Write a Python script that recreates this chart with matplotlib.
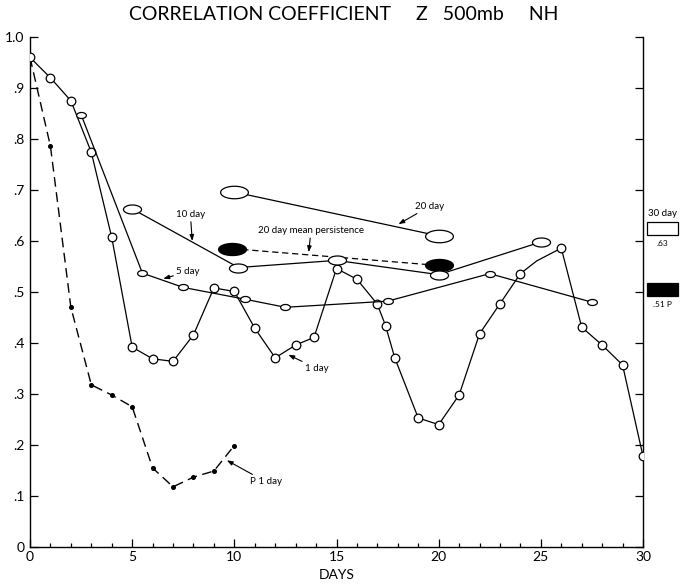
import matplotlib
matplotlib.use("Agg")
import matplotlib.pyplot as plt
import numpy as np
from matplotlib.path import Path
from matplotlib.patches import Rectangle

# ---------------- data ----------------
days_1 = [0, 1, 2, 3, 4, 5, 6, 7, 8, 9, 10, 11, 12, 13, 13.9, 15, 16, 17, 17.4,
          17.85, 19, 20, 21, 22, 23, 24, 24.8, 26, 27, 28, 29, 30]
corr_1 = [0.96, 0.92, 0.875, 0.774, 0.607, 0.392, 0.369, 0.364, 0.416, 0.508,
          0.501, 0.429, 0.371, 0.396, 0.411, 0.546, 0.525, 0.476, 0.434, 0.371,
          0.253, 0.240, 0.298, 0.418, 0.477, 0.536, 0.561, 0.586, 0.431, 0.396,
          0.357, 0.178]
no_marker_1 = [26]  # index of the kink near day 25 (no circle drawn)

days_p1 = [0, 1, 2, 3, 4, 5, 6, 7, 8, 9, 10]
corr_p1 = [0.96, 0.786, 0.470, 0.318, 0.298, 0.275, 0.155, 0.118, 0.137, 0.149, 0.199]

days_5 = [2.5, 5.5, 7.5, 10.5, 12.5, 17.5, 22.5, 27.5]
corr_5 = [0.848, 0.537, 0.509, 0.486, 0.470, 0.482, 0.536, 0.480]

days_10 = [5, 10.2, 15, 20, 25]
corr_10 = [0.663, 0.548, 0.562, 0.534, 0.598]

days_20 = [10, 20]
corr_20 = [0.696, 0.610]

days_pers = [9.9, 20]
corr_pers = [0.585, 0.552]

box_30_values = [0.63, 0.51]
box_30_labels = [".63", ".51 P"]

y_ticks = [0, 0.1, 0.2, 0.3, 0.4, 0.5, 0.6, 0.7, 0.8, 0.9, 1.0]
y_ticklabels = ["0", ".1", ".2", ".3", ".4", ".5", ".6", ".7", ".8", ".9", "1.0"]
x_ticks = [0, 5, 10, 15, 20, 25, 30]

FONT = ["Lato", "DejaVu Sans"]
plt.rcParams["font.family"] = FONT

W, H = 680, 587
fig = plt.figure(figsize=(W / 100, H / 100), dpi=100)
ax = fig.add_axes([30 / W, 40 / H, 613 / W, 510 / H])
ax.set_xlim(0, 30)
ax.set_ylim(0, 1.0)


def ellipse_marker(aspect):
    t = np.linspace(0, 2 * np.pi, 60)
    verts = np.column_stack([np.cos(t), aspect * np.sin(t)])
    return Path(verts, closed=True)


lw = 0.9
# 1 day
mk_idx = [i for i in range(len(days_1)) if i not in no_marker_1]
ax.plot(days_1, corr_1, color="black", lw=lw, marker="o", ms=6.2,
        mfc="white", mec="black", mew=0.9, markevery=mk_idx, zorder=4)
# P 1 day
ax.plot(days_p1, corr_p1, color="black", lw=1.0, ls=(0, (7, 4)), marker="o",
        ms=2.6, mfc="black", mec="black", markevery=list(range(1, len(days_p1))),
        zorder=3)
# 5 day
ax.plot(days_5, corr_5, color="black", lw=lw, marker=ellipse_marker(0.62), ms=7,
        mfc="white", mec="black", mew=0.9, zorder=5)
# 10 day
ax.plot(days_10, corr_10, color="black", lw=lw, marker=ellipse_marker(0.5), ms=13,
        mfc="white", mec="black", mew=0.9, zorder=6)
# 20 day
ax.plot(days_20, corr_20, color="black", lw=lw, marker=ellipse_marker(0.45), ms=20,
        mfc="white", mec="black", mew=0.9, zorder=6)
# 20 day mean persistence
ax.plot(days_pers, corr_pers, color="black", lw=lw, ls=(0, (5, 3)),
        marker=ellipse_marker(0.43), ms=20, mfc="black", mec="black", zorder=5)

# right-hand 30 day boxes
for val, lab, fc in zip(box_30_values, box_30_labels, ["white", "black"]):
    ax.add_patch(Rectangle((30.2, val - 0.018), 1.5, 0.026, fc=fc, ec="black",
                           lw=0.9, clip_on=False, transform=ax.transData))
    ax.text(30.95, val - 0.028, lab, fontsize=6, ha="center", va="top",
            clip_on=False)
ax.text(30.95, 0.645, "30 day", fontsize=7, ha="center", va="bottom", clip_on=False)

# annotations
fs = 7
ann = dict(arrowstyle="-|>,head_length=0.5,head_width=0.18", color="black", lw=0.8,
           shrinkA=0, shrinkB=0)
ax.annotate("10 day", xy=(7.94, 0.600), xytext=(7.85, 0.652), fontsize=fs,
            ha="center", va="center", arrowprops=ann)
ax.annotate("20 day mean persistence", xy=(13.64, 0.578), xytext=(13.75, 0.620),
            fontsize=fs, ha="center", va="center", arrowprops=ann)
ax.annotate("5 day", xy=(6.52, 0.526), xytext=(7.15, 0.540), fontsize=fs,
            ha="left", va="center", arrowprops=ann)
ax.annotate("20 day", xy=(18.03, 0.633), xytext=(18.85, 0.668), fontsize=fs,
            ha="left", va="center", arrowprops=ann)
ax.annotate("1 day", xy=(12.64, 0.377), xytext=(13.45, 0.350), fontsize=fs,
            ha="left", va="center", arrowprops=ann)
ax.annotate("P 1 day", xy=(9.63, 0.170), xytext=(10.75, 0.128), fontsize=fs,
            ha="left", va="center", arrowprops=ann)

# axes styling
for s in ["top"]:
    ax.spines[s].set_visible(False)
for s in ["left", "right", "bottom"]:
    ax.spines[s].set_linewidth(1.0)
ax.set_yticks(y_ticks)
ax.set_yticklabels(y_ticklabels, fontsize=10)
ax.set_xticks(x_ticks)
ax.set_xticklabels([str(x) for x in x_ticks], fontsize=10)
ax.set_xticks(range(0, 31), minor=True)
ax.tick_params(axis="y", direction="in", length=6, width=0.9, pad=4,
               right=True, left=True)
ax.tick_params(axis="x", which="major", direction="in", length=6, width=0.9, pad=3)
ax.tick_params(axis="x", which="minor", direction="in", length=3, width=0.9)
ax.set_xlabel("DAYS", fontsize=10, labelpad=4)

fig.text(0.505, 0.975, "CORRELATION COEFFICIENT     Z   500mb     NH",
         fontsize=14, ha="center", va="center")

fig.savefig("out.png", dpi=100)
